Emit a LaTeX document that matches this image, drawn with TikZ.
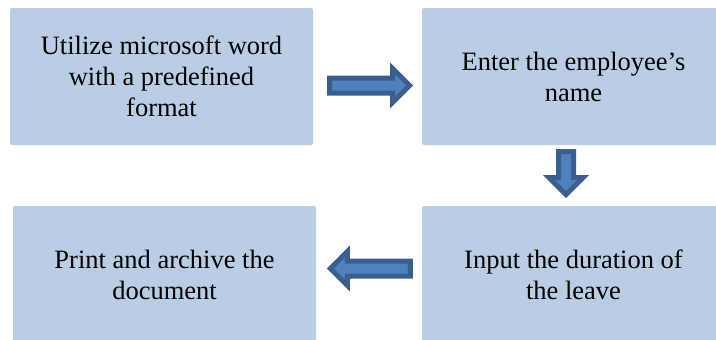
\documentclass[tikz,border=0pt]{standalone}
\usepackage{fontspec}
\setmainfont{Liberation Serif}
\usetikzlibrary{calc}
\definecolor{boxblue}{HTML}{B9CDE5}
\definecolor{arrowfill}{HTML}{4F81BD}
\definecolor{arrowline}{HTML}{3A5F8E}
\tikzset{ stepbox/.style = { rectangle
                           , fill         = boxblue
                           , rounded corners = 2pt
                           , align        = center
                           , inner sep    = 0pt
                           , minimum width  = 303pt
                           , minimum height = 137pt
                           , font = \rmfamily\fontsize{26.5}{31}\selectfont
                           },
          flowarrow/.style = { draw = arrowline
                             , fill = arrowfill
                             , line width = 5pt
                             },
          % block arrow, #1 = length from tail to tip
          pics/blockarrow/.style = { code = {
              \draw[flowarrow] (0,-7.5) -- (#1-17,-7.5) -- (#1-17,-17) -- (#1,0)
                  -- (#1-17,17) -- (#1-17,7.5) -- (0,7.5) -- cycle;
          }}
        }

\begin{document}
\begin{tikzpicture}[x=1pt, y=-1pt]
    \useasboundingbox (0,0) rectangle (716,340);
    \node[stepbox] (utilize) at (161.5,76.5) {Utilize microsoft word\\with a predefined\\format};
    \node[stepbox] (enter)   at (573.5,76.5) {Enter the employee’s\\name};
    \node[stepbox] (input)   at (573.5,274.5) {Input the duration of\\the leave};
    \node[stepbox] (print)   at (164.5,274.5) {Print and archive the\\document};
    % block arrows between the steps
    \coordinate (a1) at ($(utilize.east)+(16.5,9)$);
    \coordinate (a2) at ($(enter.south)+(-7.5,6.5)$);
    \coordinate (a3) at ($(input.west)+(-11.5,-6)$);
    \pic at (a1) {blockarrow=80};
    \pic[rotate=-90] at (a2) {blockarrow=43};
    \pic[rotate=180] at (a3) {blockarrow=80};
\end{tikzpicture}
\end{document}
